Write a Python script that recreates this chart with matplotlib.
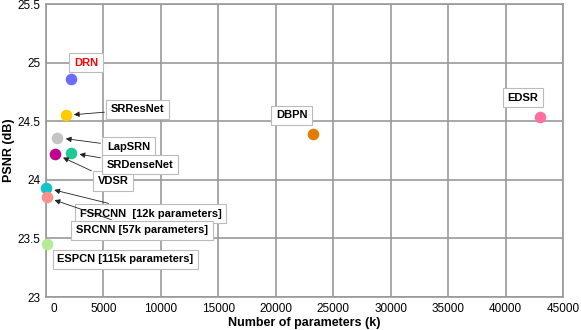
import numpy as np
import matplotlib.pyplot as plt
import matplotlib.transforms as mtransforms

plt.rcParams['font.family'] = ['Liberation Sans', 'DejaVu Sans']

# modelos, parametros (k) e PSNR (dB)
modelos = ['DRN', 'SRResNet', 'LapSRN', 'VDSR', 'SRDenseNet', 'FSRCNN', 'SRCNN', 'ESPCN', 'DBPN', 'EDSR']
parametros = [2200, 1700, 1000, 820, 2200, 12, 57, 115, 23200, 43000]
psnr = [24.86, 24.55, 24.36, 24.22, 24.23, 23.93, 23.85, 23.45, 24.39, 24.54]
cores = ['#6b6bff', '#ffcc00', '#c4c4c4', '#c0008c', '#20c897', '#12c3c9', '#ff9090', '#b5eb96', '#e07d00', '#ff6fa0']
rotulos = ['DRN', 'SRResNet', 'LapSRN', 'VDSR', 'SRDenseNet', 'FSRCNN  [12k parameters]',
           'SRCNN [57k parameters]', 'ESPCN [115k parameters]', 'DBPN', 'EDSR']
# posicao do texto (x em k, y em dB)
texto_x = [3500, 5650, 5300, 4500, 5300, 2950, 2600, 1000, 21400, 41500]
texto_y = [25.0, 24.60, 24.28, 23.99, 24.13, 23.71, 23.57, 23.32, 24.55, 24.70]
com_seta = [False, True, True, True, True, True, True, False, False, False]

fig = plt.figure(figsize=(5.81, 3.30), dpi=100)
ax = fig.add_axes([46 / 581, 1 - 297 / 330, (563 - 46) / 581, (297 - 4) / 330])

for i in range(len(modelos)):
    ax.scatter(parametros[i], psnr[i], s=70, color=cores[i], zorder=4, clip_on=False, linewidths=0)

caixa = dict(boxstyle='square,pad=0.42', fc='white', ec='#bbbbbb', lw=0.8)
for i in range(len(modelos)):
    cor_txt = 'red' if modelos[i] == 'DRN' else 'black'
    if com_seta[i]:
        ax.annotate(rotulos[i], xy=(parametros[i], psnr[i]), xytext=(texto_x[i], texto_y[i]),
                    fontsize=8, fontweight='bold', color=cor_txt, ha='left', va='center',
                    bbox=caixa, zorder=5,
                    arrowprops=dict(arrowstyle='-|>', color='#222222', lw=0.6,
                                    mutation_scale=8, shrinkA=1, shrinkB=6))
    else:
        ha = 'left' if modelos[i] == 'ESPCN' else 'center'
        ax.text(texto_x[i], texto_y[i], rotulos[i], fontsize=8, fontweight='bold',
                color=cor_txt, ha=ha, va='center', bbox=caixa, zorder=5)

ax.set_xlim(0, 45000)
ax.set_ylim(23, 25.5)
ax.set_xticks(np.arange(0, 45001, 5000))
ax.set_yticks([23, 23.5, 24, 24.5, 25, 25.5])
ax.set_yticklabels(['23', '23.5', '24', '24.5', '25', '25.5'])
ax.grid(True, color='#999999', lw=1.2)
ax.set_axisbelow(True)
for s in ax.spines.values():
    s.set_color('#999999')
    s.set_linewidth(1.2)
ax.tick_params(length=0, labelsize=8.5, pad=4)

# rotulo do 0 deslocado como no original
desloc = mtransforms.ScaledTranslation(8 / 100, 0, fig.dpi_scale_trans)
ax.get_xticklabels()[0].set_transform(ax.get_xticklabels()[0].get_transform() + desloc)

ax.set_xlabel('Number of parameters (k)', fontsize=9, fontweight='bold', labelpad=2)
ax.set_ylabel('PSNR (dB)', fontsize=9, fontweight='bold')
ax.yaxis.set_label_coords(-0.06, 0.5)

fig.savefig('out.png', dpi=100)
